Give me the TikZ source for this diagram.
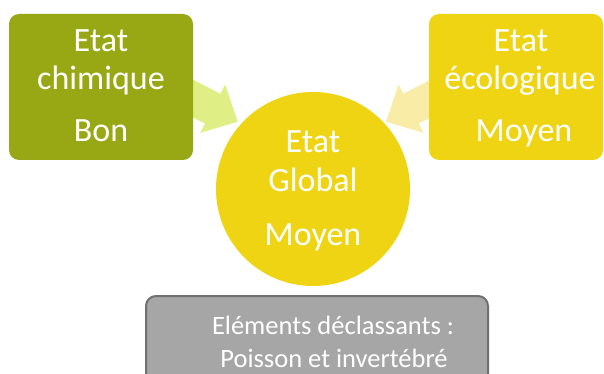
\documentclass[tikz,border=0pt]{standalone}
\usepackage{fontspec}
\setmainfont{Carlito}
\definecolor{olivebox}{HTML}{97A814}
\definecolor{yellowbox}{HTML}{EFD413}
\definecolor{greenarrow}{HTML}{E0EF85}
\definecolor{yellowarrow}{HTML}{F8ECA6}
\definecolor{graybox}{HTML}{A6A6A6}
\definecolor{grayborder}{HTML}{707070}
\begin{document}
\begin{tikzpicture}[x=1pt,y=-1pt,
  boxshape/.style={rectangle,rounded corners=10pt,inner sep=0pt,minimum width=#1,minimum height=146pt},
  big/.style={anchor=base,text=white,inner sep=0pt,font=\fontsize{34}{36}\selectfont},
  small/.style={anchor=base,text=white,inner sep=0pt,font=\fontsize{26.5}{30}\selectfont}]
\useasboundingbox (0,0) rectangle (604,374);
\clip (0,0) rectangle (604,374);
% block arrows
\fill[greenarrow] (184.9,75.4) -- (220.4,93.8) -- (225.2,84.6) -- (237.7,121.7) -- (200.2,132.8) -- (205,123.6) -- (169.5,105.2) -- cycle;
\fill[yellowarrow] (438.8,75.4) -- (403.3,93.8) -- (398.5,84.6) -- (386,121.7) -- (423.5,132.8) -- (418.7,123.6) -- (454.2,105.2) -- cycle;
% boxes
\node[boxshape=184pt,fill=olivebox] (chem) at (101,87) {};
\node[boxshape=174pt,fill=yellowbox] (eco) at (516,87) {};
\node[circle,fill=yellowbox,minimum size=194pt,inner sep=0pt] (glob) at (313,189) {};
\draw[grayborder,line width=2pt,fill=graybox,rounded corners=10pt] (146,296) rectangle (488,400);
% texts
\node[big] (c1) at (101,52) {Etat};
\node[big] (c2) at (101,90) {chimique};
\node[big] (c3) at (101,142) {Bon};
\node[big] (e1) at (521,52) {Etat};
\node[big] (e2) at (520,90) {écologique};
\node[big] (e3) at (524,142) {Moyen};
\node[big] (g1) at (313,153) {Etat};
\node[big] (g2) at (313,191) {Global};
\node[big] (g3) at (313,245) {Moyen};
\node[small] (d1) at (333,334) {Eléments déclassants :};
\node[small] (d2) at (334,367) {Poisson et invertébré};
\end{tikzpicture}
\end{document}
